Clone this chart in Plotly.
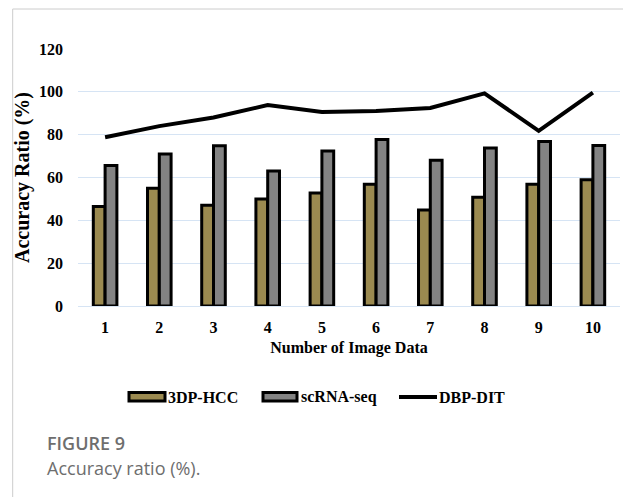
import plotly.graph_objects as go

categories = ["1", "2", "3", "4", "5", "6", "7", "8", "9", "10"]
hcc = [46.5, 55, 47, 50, 52.8, 56.8, 44.8, 50.8, 56.8, 59]
scrna = [65.6, 71, 74.8, 63, 72.4, 77.8, 68, 73.8, 76.8, 75]
dbp = [78.8, 84, 88, 93.8, 90.6, 91, 92.5, 99.3, 81.8, 99.6]
y_ticks = [0, 20, 40, 60, 80, 100, 120]
series_names = ["3DP-HCC", "scRNA-seq", "DBP-DIT"]
series_colors = ["#9b8a50", "#838383", "black"]

serif = "Liberation Serif"
L, R, T, B = 78, 3, 49, 191
W, H = 623, 497
PW, PH = W - L - R, H - T - B


def px(x):
    return (x - L) / PW


def py(y):
    return (H - B - y) / PH


fig = go.Figure()
fig.add_trace(go.Bar(x=categories, y=hcc, name=series_names[0],
                     marker=dict(color=series_colors[0], line=dict(color="black", width=3))))
fig.add_trace(go.Bar(x=categories, y=scrna, name=series_names[1],
                     marker=dict(color=series_colors[1], line=dict(color="black", width=3))))
fig.add_trace(go.Scatter(x=categories, y=dbp, name=series_names[2], mode="lines",
                         line=dict(color=series_colors[2], width=4)))

shapes = [
    dict(type="line", xref="paper", yref="paper", x0=px(12.7), x1=px(640), y0=py(9), y1=py(9),
         line=dict(color="#cccccc", width=1)),
    dict(type="line", xref="paper", yref="paper", x0=px(12.7), x1=px(12.7), y0=py(9), y1=py(520),
         line=dict(color="#cccccc", width=1)),
    # custom legend symbols
    dict(type="rect", xref="paper", yref="paper", x0=px(129), x1=px(165), y0=py(401), y1=py(392.5),
         fillcolor=series_colors[0], line=dict(color="black", width=3)),
    dict(type="rect", xref="paper", yref="paper", x0=px(263), x1=px(297), y0=py(401), y1=py(392.5),
         fillcolor=series_colors[1], line=dict(color="black", width=3)),
    dict(type="line", xref="paper", yref="paper", x0=px(399), x1=px(437), y0=py(397), y1=py(397),
         line=dict(color="black", width=4)),
]

legend_font = dict(family=serif, size=16, color="black", weight="bold")
annotations = [
    dict(text=series_names[0], xref="paper", yref="paper", x=px(166), y=py(397),
         xanchor="left", yanchor="middle", showarrow=False, font=legend_font),
    dict(text=series_names[1], xref="paper", yref="paper", x=px(299), y=py(397),
         xanchor="left", yanchor="middle", showarrow=False, font=legend_font),
    dict(text=series_names[2], xref="paper", yref="paper", x=px(437), y=py(397),
         xanchor="left", yanchor="middle", showarrow=False, font=legend_font),
    dict(text="FIGURE 9", xref="paper", yref="paper", x=px(45), y=py(443),
         xanchor="left", yanchor="middle", showarrow=False,
         font=dict(family="Open Sans", size=18, color="#6e6e6e", weight=600)),
    dict(text="Accuracy ratio (%).", xref="paper", yref="paper", x=px(45), y=py(468),
         xanchor="left", yanchor="middle", showarrow=False,
         font=dict(family="Open Sans", size=18, color="#6e6e6e")),
]

fig.update_layout(
    width=W, height=H,
    margin=dict(l=L, r=R, t=T, b=B),
    paper_bgcolor="white", plot_bgcolor="white",
    barmode="group", bargap=0.565, bargroupgap=0,
    font=dict(family=serif, color="black", size=16),
    showlegend=False,
    xaxis=dict(type="category", showgrid=False, showline=False, ticks="",
               ticklabelstandoff=10,
               tickfont=dict(family=serif, size=16, weight="bold"),
               title=dict(text="<b>Number of Image Data</b>", standoff=6,
                          font=dict(family=serif, size=16))),
    yaxis=dict(range=[0, 120], tickvals=y_ticks, showgrid=True, gridcolor="#d6e4f4",
               gridwidth=1, zeroline=True, zerolinecolor="#d6e4f4", zerolinewidth=1,
               showline=False, ticks="", ticklabelstandoff=14,
               tickfont=dict(family=serif, size=16, weight="bold"),
               title=dict(text="<b>Accuracy Ratio (%)</b>", standoff=4,
                          font=dict(family=serif, size=20))),
    shapes=shapes,
    annotations=annotations,
)

fig.write_html("out.html")
